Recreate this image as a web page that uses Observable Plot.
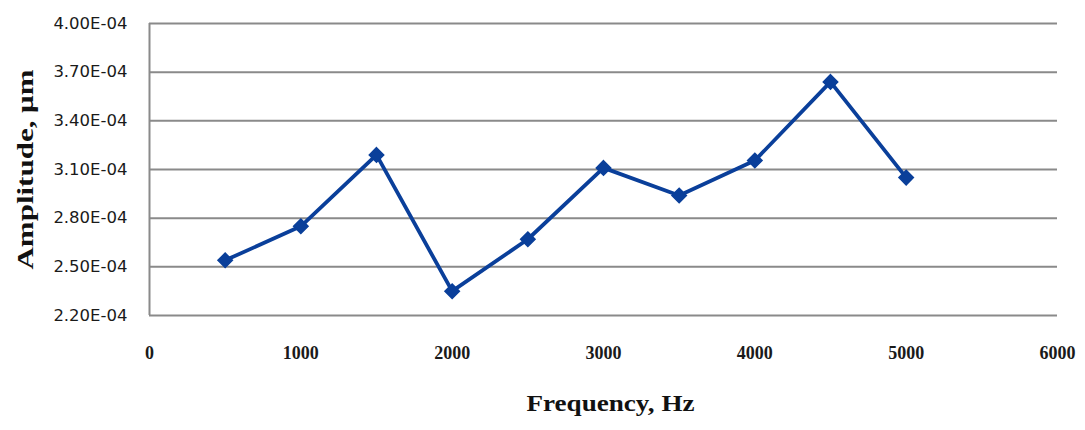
<!DOCTYPE html>
<html>
<head>
<meta charset="utf-8">
<script src="https://cdn.jsdelivr.net/npm/d3@7"></script>
<script src="https://cdn.jsdelivr.net/npm/@observablehq/plot@0.6"></script>
<style>
  html, body { margin: 0; padding: 0; background: #fff; }
  #chart svg { display: block; }
</style>
</head>
<body>
<div id="chart"></div>
<script>
const frequency = [500, 1000, 1500, 2000, 2500, 3000, 3500, 4000, 4500, 5000];
const amplitude = [2.54e-4, 2.75e-4, 3.19e-4, 2.35e-4, 2.67e-4, 3.11e-4, 2.94e-4, 3.155e-4, 3.64e-4, 3.05e-4];
const xTicks = [0, 1000, 2000, 3000, 4000, 5000, 6000];
const yTicks = [2.2e-4, 2.5e-4, 2.8e-4, 3.1e-4, 3.4e-4, 3.7e-4, 4.0e-4];
const xTitle = "Frequency, Hz";
const yTitle = "Amplitude, μm";

const data = frequency.map((f, i) => ({f, a: amplitude[i]}));
const lineColor = "#0a3f9a";
const fmtY = d => (d * 1e4).toFixed(2) + "E-04";

const chart = Plot.plot({
  width: 1085,
  height: 430,
  marginLeft: 149,
  marginRight: 28,
  marginTop: 23,
  marginBottom: 115,
  style: {background: "#fff"},
  x: {domain: [0, 6000]},
  y: {domain: [2.2e-4, 4.0e-4]},
  marks: [
    Plot.ruleY(yTicks, {stroke: "#8a8a8a", strokeWidth: 2}),
    Plot.ruleX([0], {stroke: "#8a8a8a", strokeWidth: 2}),
    Plot.axisY({ticks: yTicks, tickFormat: fmtY, tickSize: 0, tickPadding: 22, label: null,
      fontSize: 16.5, fontFamily: "DejaVu Sans", fill: "#1a1a1a", className: "yticks"}),
    Plot.axisX({ticks: xTicks, tickFormat: d => String(d), tickSize: 0, tickPadding: 31, label: null,
      fontSize: 18, fontFamily: "Liberation Serif", fontWeight: "bold", fill: "#1a1a1a"}),
    Plot.line(data, {x: "f", y: "a", stroke: lineColor, strokeWidth: 3.8}),
    Plot.dot(data, {x: "f", y: "a", symbol: "diamond2", r: 6.5, fill: lineColor, stroke: lineColor}),
    Plot.text([xTitle], {frameAnchor: "bottom", dy: 95, dx: 7, fontSize: 24, fontFamily: "Liberation Serif",
      fontWeight: "bold", fill: "#111", className: "xtitle"}),
    Plot.text([yTitle], {frameAnchor: "left", textAnchor: "middle", dx: -124, rotate: -90, fontSize: 24,
      fontFamily: "Liberation Serif", fontWeight: "bold", fill: "#111", className: "ytitle"})
  ]
});
chart.querySelectorAll(".xtitle text").forEach(t => { t.setAttribute("textLength", 168); t.setAttribute("lengthAdjust", "spacingAndGlyphs"); });
chart.querySelectorAll(".ytitle text").forEach(t => { t.setAttribute("textLength", 200); t.setAttribute("lengthAdjust", "spacingAndGlyphs"); });
document.getElementById("chart").append(chart);
</script>
</body>
</html>
